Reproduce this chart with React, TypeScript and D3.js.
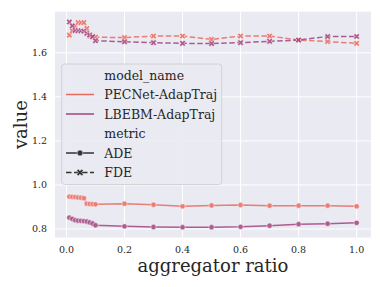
import React from 'react'
import * as d3 from 'd3'

const ratios = [0.01, 0.02, 0.03, 0.04, 0.05, 0.06, 0.07, 0.08, 0.09, 0.1, 0.2, 0.3, 0.4, 0.5, 0.6, 0.7, 0.8, 0.9, 1.0]
const pecnetADE = [0.947, 0.946, 0.945, 0.943, 0.942, 0.940, 0.915, 0.914, 0.913, 0.912, 0.915, 0.910, 0.903, 0.907, 0.909, 0.906, 0.906, 0.906, 0.903]
const lbebmADE = [0.852, 0.846, 0.840, 0.838, 0.837, 0.836, 0.834, 0.830, 0.825, 0.817, 0.812, 0.809, 0.808, 0.808, 0.810, 0.815, 0.822, 0.824, 0.828]
const pecnetFDE = [1.680, 1.700, 1.720, 1.737, 1.737, 1.737, 1.710, 1.676, 1.673, 1.671, 1.669, 1.676, 1.676, 1.661, 1.676, 1.676, 1.658, 1.651, 1.643]
const lbebmFDE = [1.740, 1.722, 1.702, 1.700, 1.700, 1.698, 1.688, 1.681, 1.673, 1.655, 1.650, 1.646, 1.643, 1.642, 1.646, 1.652, 1.658, 1.674, 1.674]

const models = ['PECNet-AdapTraj', 'LBEBM-AdapTraj']
const metrics = ['ADE', 'FDE']
const colors = ['#ea6a60', '#a3447f']
const xTicks = [0, 0.2, 0.4, 0.6, 0.8, 1.0]
const yTicks = [0.8, 1.0, 1.2, 1.4, 1.6]

const series = [
  { model: 0, metric: 0, values: pecnetADE },
  { model: 1, metric: 0, values: lbebmADE },
  { model: 0, metric: 1, values: pecnetFDE },
  { model: 1, metric: 1, values: lbebmFDE },
]

const W = 382, H = 287
const left = 55, right = 371, top = 11.7, bottom = 237.5
const font = '"DejaVu Serif", serif'

const withMargin = (ext: [number, number]) => {
  const pad = (ext[1] - ext[0]) * 0.05
  return [ext[0] - pad, ext[1] + pad]
}

const markerPath = (metric: number, size = 22) =>
  metric === 0
    ? d3.symbol(d3.symbolCircle, size)()
    : d3.symbol(d3.symbolCross, size * 1.1)()

export default function App() {
  const allY = series.flatMap(s => s.values)
  const x = d3.scaleLinear().domain(withMargin(d3.extent(ratios) as [number, number])).range([left, right])
  const y = d3.scaleLinear().domain(withMargin(d3.extent(allY) as [number, number])).range([bottom, top])

  const line = d3.line<number>().x((_, i) => x(ratios[i])).y(d => y(d))

  const legendRows = [
    { label: 'model_name' },
    { label: models[0], color: colors[0] },
    { label: models[1], color: colors[1] },
    { label: 'metric' },
    { label: metrics[0], metric: 0 },
    { label: metrics[1], metric: 1 },
  ]

  return (
    <svg width={W} height={H} style={{ position: 'absolute', left: 0, top: 0 }}>
      <rect x={0} y={0} width={W} height={H} fill="white" />
      <rect x={left} y={top} width={right - left} height={bottom - top} fill="#eaeaf2" />
      {xTicks.map(t => (
        <g key={'x' + t}>
          <line x1={x(t)} x2={x(t)} y1={top} y2={bottom} stroke="white" strokeWidth={1} />
          <text x={x(t)} y={253} textAnchor="middle" fontFamily={font} fontSize={9.5} fill="#262626">
            {d3.format('.1f')(t)}
          </text>
        </g>
      ))}
      {yTicks.map(t => (
        <g key={'y' + t}>
          <line x1={left} x2={right} y1={y(t)} y2={y(t)} stroke="white" strokeWidth={1} />
          <text x={47} y={y(t) + 3.4} textAnchor="end" fontFamily={font} fontSize={9.5} fill="#262626">
            {d3.format('.1f')(t)}
          </text>
        </g>
      ))}
      {series.map((s, k) => (
        <g key={'s' + k} opacity={0.85}>
          <path
            d={line(s.values) || ''}
            fill="none"
            stroke={colors[s.model]}
            strokeWidth={1.5}
            strokeDasharray={s.metric === 1 ? '5.5,2.5' : undefined}
          />
          {s.values.map((v, i) => (
            <path
              key={i}
              d={markerPath(s.metric) || ''}
              transform={`translate(${x(ratios[i])},${y(v)})${s.metric === 1 ? ' rotate(45)' : ''}`}
              fill={colors[s.model]}
              stroke="white"
              strokeWidth={0.5}
            />
          ))}
        </g>
      ))}
      <text x={213} y={272} textAnchor="middle" fontFamily={font} fontSize={18} fill="#262626">
        aggregator ratio
      </text>
      <text transform={`translate(27,${(top + bottom) / 2}) rotate(-90)`} textAnchor="middle" fontFamily={font} fontSize={18} fill="#262626">
        value
      </text>
      <g>
        <rect x={61.7} y={64} width={160} height={120.5} rx={3} fill="#eaeaf2" fillOpacity={0.9} stroke="#cccccc" strokeWidth={0.8} />
        {legendRows.map((r, i) => {
          const cy = 75 + i * 19.5
          return (
            <g key={'l' + i}>
              {r.color && <line x1={66} x2={94} y1={cy} y2={cy} stroke={r.color} strokeWidth={1.5} />}
              {r.metric !== undefined && (
                <g>
                  <line x1={66} x2={94} y1={cy} y2={cy} stroke="#333" strokeWidth={1.5} strokeDasharray={r.metric === 1 ? '5.5,2.5' : undefined} />
                  <path
                    d={markerPath(r.metric, 26) || ''}
                    transform={`translate(80,${cy})${r.metric === 1 ? ' rotate(45)' : ''}`}
                    fill="#333"
                    stroke="white"
                    strokeWidth={0.5}
                  />
                </g>
              )}
              <text x={104.3} y={cy + 4.5} fontFamily={font} fontSize={12.5} fill="#262626">
                {r.label}
              </text>
            </g>
          )
        })}
      </g>
    </svg>
  )
}
